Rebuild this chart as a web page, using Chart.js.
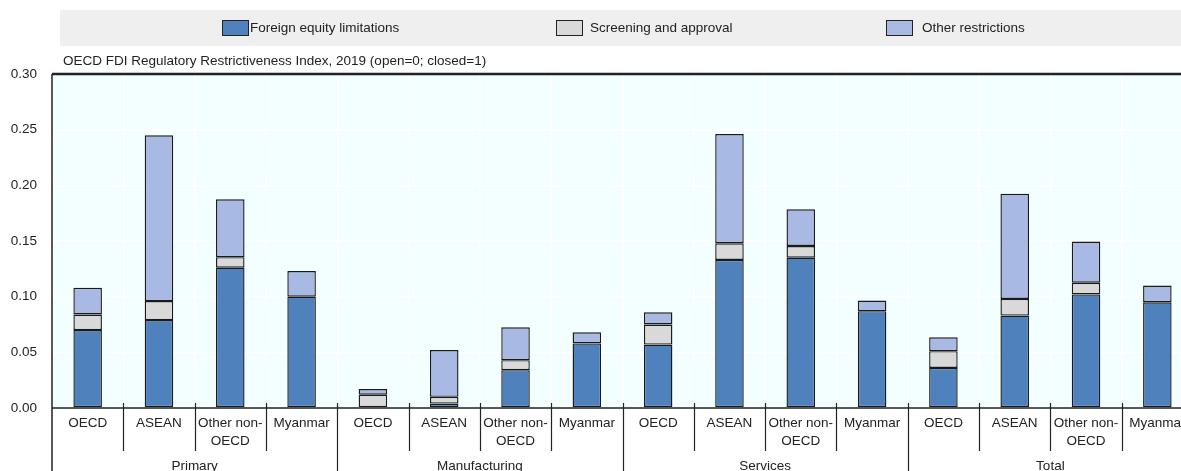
<!DOCTYPE html>
<html>
<head>
<meta charset="utf-8">
<script src="https://cdn.jsdelivr.net/npm/chart.js@4.4.1/dist/chart.umd.min.js"></script>
<style>
  html, body { margin: 0; padding: 0; background: #fff; overflow: hidden; }
  #wrap { width: 1196px; height: 471px; position: relative; }
</style>
</head>
<body>
<div id="wrap"><canvas id="fdiChart"></canvas></div>
<script>
// categories
const groups = ["Primary", "Manufacturing", "Services", "Total"];
const economies = ["OECD", "ASEAN", ["Other non-", "OECD"], "Myanmar"];
const yTicks = [0, 0.05, 0.10, 0.15, 0.20, 0.25, 0.30];

// series values (Primary, Manufacturing, Services, Total x OECD, ASEAN, Other non-OECD, Myanmar)
const foreignEquity = [0.070, 0.079, 0.126, 0.100,  null, 0.004, 0.034, 0.058,  0.057, 0.133, 0.135, 0.087,  0.036, 0.083, 0.102, 0.095];
const screening     = [0.014, 0.017, 0.0095, null,  0.012, 0.006, 0.009, null,  0.018, 0.015, 0.0105, null,  0.015, 0.015, 0.0105, null];
const otherRestr    = [0.024, 0.149, 0.052, 0.023,  0.005, 0.042, 0.0295, 0.010,  0.011, 0.098, 0.033, 0.0095,  0.0125, 0.0945, 0.037, 0.015];

const seriesNames = ["Foreign equity limitations", "Screening and approval", "Other restrictions"];
const seriesColors = ["#4f81bd", "#d9d9d9", "#a8b9e3"];

const labels = [];
groups.forEach(g => economies.forEach(e => labels.push(e)));

const FONT = "'Liberation Sans', Arial, sans-serif";

const decorPlugin = {
    id: "decor",
    beforeDraw(chart) {
        const { ctx, chartArea: a } = chart;
        ctx.save();
        ctx.fillStyle = "#f2feff";
        ctx.fillRect(a.left, a.top, a.right - a.left, a.bottom - a.top);
        ctx.restore();
    },
    afterDraw(chart) {
        const { ctx, chartArea: a } = chart;
        const x = chart.scales.x;
        ctx.save();

        // axis frame
        ctx.strokeStyle = "#222";
        ctx.lineWidth = 2.5;
        ctx.beginPath();
        ctx.moveTo(a.left, a.top); ctx.lineTo(a.right, a.top);
        ctx.stroke();
        ctx.lineWidth = 1.5;
        ctx.beginPath();
        ctx.moveTo(a.left, a.top); ctx.lineTo(a.left, 471);
        ctx.moveTo(a.left, a.bottom); ctx.lineTo(a.right, a.bottom);
        ctx.stroke();

        // separators between categories
        ctx.lineWidth = 1.2;
        for (let i = 1; i < labels.length; i++) {
            const bx = Math.round((x.getPixelForValue(i - 1) + x.getPixelForValue(i)) / 2) + 0.5;
            ctx.beginPath();
            ctx.moveTo(bx, a.bottom - 5);
            ctx.lineTo(bx, i % 4 === 0 ? 471 : a.bottom + 43);
            ctx.stroke();
        }

        // category labels
        ctx.fillStyle = "#222";
        ctx.font = "13.5px " + FONT;
        ctx.textAlign = "center";
        ctx.textBaseline = "middle";
        labels.forEach((lab, i) => {
            const cx = x.getPixelForValue(i);
            const lines = Array.isArray(lab) ? lab : [lab];
            lines.forEach((ln, k) => ctx.fillText(ln, cx, a.bottom + 15 + k * 18));
        });

        // group labels
        groups.forEach((g, gi) => {
            const cx = (x.getPixelForValue(gi * 4) + x.getPixelForValue(gi * 4 + 3)) / 2;
            ctx.fillText(g, cx, a.bottom + 58);
        });

        // subtitle
        ctx.textAlign = "left";
        ctx.fillText("OECD FDI Regulatory Restrictiveness Index, 2019 (open=0; closed=1)", 63, 61);

        // legend
        ctx.fillStyle = "#efefef";
        ctx.fillRect(60, 10, 1130, 36);
        const legX = [222, 556, 886];
        const txtX = [250, 590, 922];
        seriesNames.forEach((n, i) => {
            ctx.fillStyle = seriesColors[i];
            ctx.fillRect(legX[i], 20, 26, 15);
            ctx.strokeStyle = "#222";
            ctx.lineWidth = 1;
            ctx.strokeRect(legX[i] + 0.5, 20.5, 26, 15);
            ctx.fillStyle = "#222";
            ctx.fillText(n, txtX[i], 28);
        });
        ctx.restore();
    }
};

const ctx = document.getElementById("fdiChart").getContext("2d");
new Chart(ctx, {
    type: "bar",
    data: {
        labels: labels,
        datasets: [foreignEquity, screening, otherRestr].map((d, i) => ({
            label: seriesNames[i],
            data: d,
            backgroundColor: seriesColors[i],
            borderColor: "#1a1a1a",
            borderWidth: 1.4,
            borderSkipped: false,
            barPercentage: 0.4,
            categoryPercentage: 1
        }))
    },
    options: {
        responsive: true,
        maintainAspectRatio: false,
        animation: false,
        layout: { padding: { top: 74, right: 3, left: 0, bottom: 0 } },
        plugins: {
            legend: { display: false },
            tooltip: { enabled: false }
        },
        scales: {
            x: {
                stacked: true,
                offset: true,
                grid: { color: "#ffffff", lineWidth: 1.5, drawTicks: false, offset: true },
                border: { display: false },
                ticks: { display: false },
                afterFit: s => { s.height = 63; }
            },
            y: {
                stacked: true,
                min: 0,
                max: 0.3,
                afterBuildTicks: s => { s.ticks = yTicks.map(v => ({ value: v })); },
                grid: { color: "#ffffff", lineWidth: 1.5, drawTicks: false },
                border: { display: false },
                ticks: {
                    padding: 15,
                    color: "#222",
                    font: { size: 13.5, family: FONT },
                    callback: v => v.toFixed(2)
                },
                afterFit: s => { s.width = 52; }
            }
        }
    },
    plugins: [decorPlugin]
});
</script>
</body>
</html>
